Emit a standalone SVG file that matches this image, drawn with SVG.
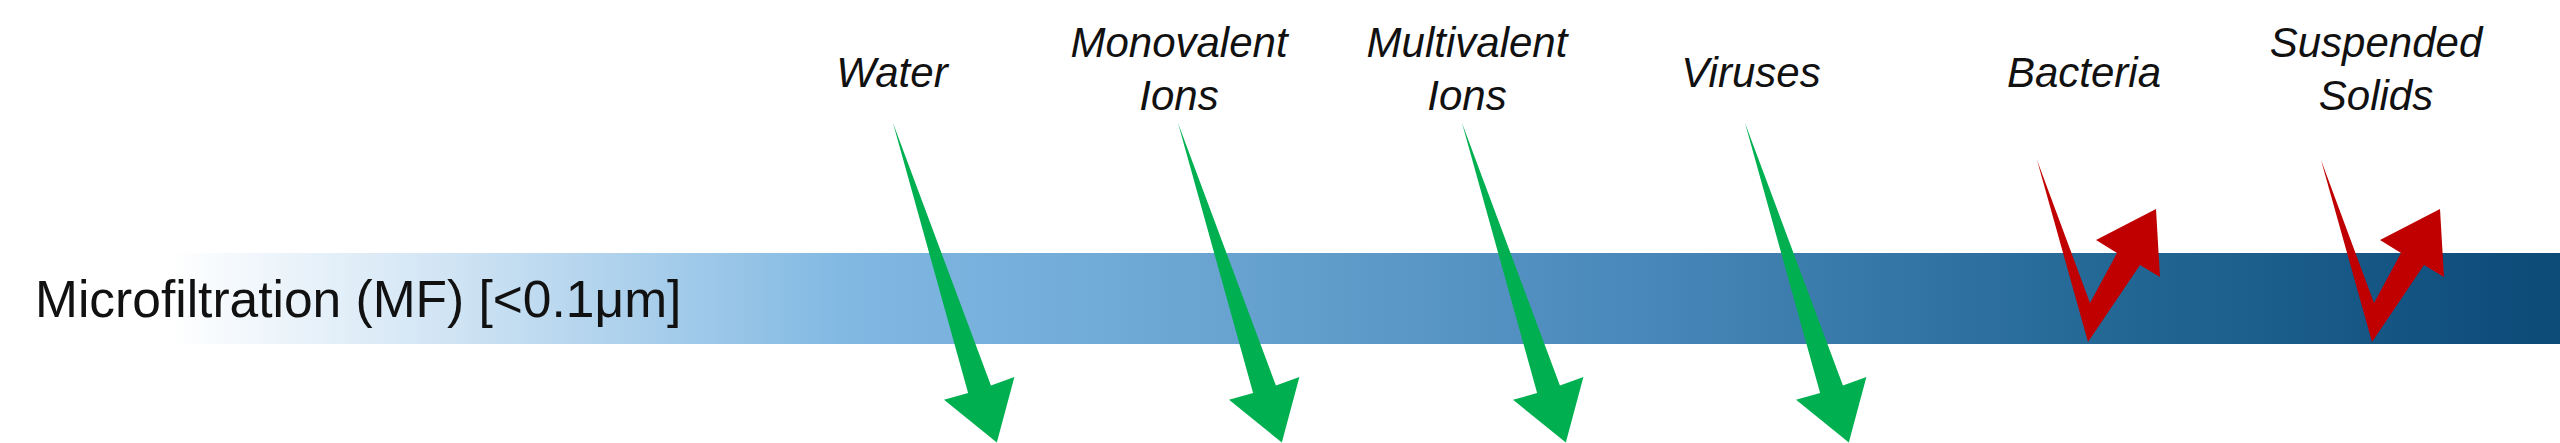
<svg xmlns="http://www.w3.org/2000/svg" xmlns:xlink="http://www.w3.org/1999/xlink" width="2560" height="443" viewBox="0 0 2560 443">
<style>
.lbl{font-family:"Liberation Sans",Arial,sans-serif;font-style:italic;font-size:42px;fill:#111;text-anchor:middle}
.main{font-family:"Liberation Sans",Arial,sans-serif;font-size:51.5px;fill:#111}
.pass{fill:#00b050}
.rej{fill:#c00000}
</style>
<defs>
<linearGradient id="bandGrad" gradientUnits="userSpaceOnUse" x1="0" y1="0" x2="2560" y2="0">
<stop offset="0.066" stop-color="#ffffff"/>
<stop offset="0.176" stop-color="#d0e4f4"/>
<stop offset="0.332" stop-color="#80b8e2"/>
<stop offset="0.469" stop-color="#6aa5d2"/>
<stop offset="0.645" stop-color="#4787b9"/>
<stop offset="0.82" stop-color="#246896"/>
<stop offset="1" stop-color="#0c4a78"/>
</linearGradient>
<polygon id="greenArrow" points="0,0 12,280 37,279 0,336 -37,279 -12,280"/>
<polygon id="redArrow" points="0,0 53,143 80,93 59,80 119,49 123,117 103,105 51,182"/>
</defs>
<rect width="2560" height="443" fill="#ffffff"/>
<g id="band">
<rect x="0" y="253" width="2560" height="91" fill="url(#bandGrad)"/>
<text class="main" x="35" y="317">Microfiltration (MF) [&lt;0.1μm]</text>
</g>
<g id="water"><text class="lbl" x="892" y="87">Water</text></g>
<g id="monovalent"><text class="lbl" x="1179" y="57">Monovalent</text><text class="lbl" x="1179" y="110">Ions</text></g>
<g id="multivalent"><text class="lbl" x="1467" y="57">Multivalent</text><text class="lbl" x="1467" y="110">Ions</text></g>
<g id="viruses"><text class="lbl" x="1751" y="87">Viruses</text></g>
<g id="bacteria"><text class="lbl" x="2084" y="87">Bacteria</text></g>
<g id="solids"><text class="lbl" x="2376" y="57">Suspended</text><text class="lbl" x="2376" y="110">Solids</text></g>
<g id="connectors">
<use xlink:href="#greenArrow" class="pass" transform="translate(893,123) rotate(-18)"/>
<use xlink:href="#greenArrow" class="pass" transform="translate(1178,123) rotate(-18)"/>
<use xlink:href="#greenArrow" class="pass" transform="translate(1462,123) rotate(-18)"/>
<use xlink:href="#greenArrow" class="pass" transform="translate(1745,123) rotate(-18)"/>
<use xlink:href="#redArrow" class="rej" transform="translate(2037,160)"/>
<use xlink:href="#redArrow" class="rej" transform="translate(2321,160)"/>
</g>
</svg>
